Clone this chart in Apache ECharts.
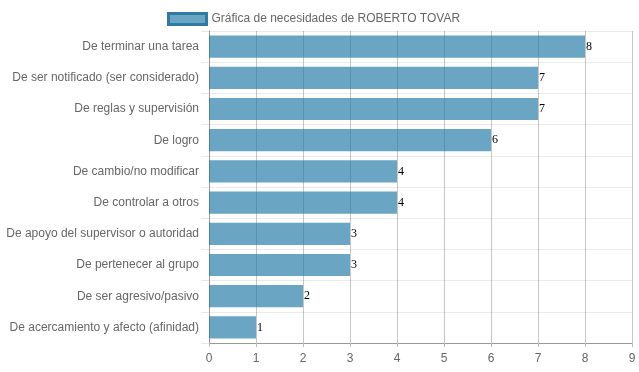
<!DOCTYPE html>
<html><head><meta charset="utf-8">
<script src="https://cdn.jsdelivr.net/npm/echarts@6/dist/echarts.min.js"></script>
<style>html,body{margin:0;padding:0;background:#fff}#c{width:639px;height:372px}</style>
</head><body><div id="c"></div>
<script>
const categories = [
  "De terminar una tarea",
  "De ser notificado (ser considerado)",
  "De reglas y supervisión",
  "De logro",
  "De cambio/no modificar",
  "De controlar a otros",
  "De apoyo del supervisor o autoridad",
  "De pertenecer al grupo",
  "De ser agresivo/pasivo",
  "De acercamiento y afecto (afinidad)"
];
const values = [8, 7, 7, 6, 4, 4, 3, 3, 2, 1];
const seriesName = "Gráfica de necesidades de ROBERTO TOVAR";
const xTicks = [0, 1, 2, 3, 4, 5, 6, 7, 8, 9];

const chart = echarts.init(document.getElementById('c'));
chart.setOption({
  animation: false,
  textStyle: {fontFamily: 'Liberation Sans, Arial, sans-serif'},
  legend: {
    top: 7, left: 162,
    icon: 'rect',
    itemWidth: 38, itemHeight: 11, itemGap: 9,
    textStyle: {color: '#666', fontSize: 12},
    data: [{name: seriesName, itemStyle: {borderColor: '#2e7aa3', borderWidth: 3, color: 'rgba(26,118,165,0.65)'}}]
  },
  grid: {left: 209, right: 7, top: 31, bottom: 29, containLabel: false},
  xAxis: {
    type: 'value', min: xTicks[0], max: xTicks[xTicks.length - 1], interval: 1,
    axisLine: {show: true, lineStyle: {color: '#999'}},
    axisTick: {show: true, length: 4, lineStyle: {color: '#bbb'}},
    axisLabel: {color: '#666', fontSize: 12, margin: 10},
    splitLine: {show: true, lineStyle: {color: 'rgba(0,0,0,0.22)'}}
  },
  yAxis: {
    type: 'category', inverse: true, data: categories,
    axisLine: {show: true, lineStyle: {color: '#999'}},
    axisTick: {show: true, length: 8, lineStyle: {color: '#e8e8e8'}},
    axisLabel: {color: '#666', fontSize: 12, margin: 10},
    splitLine: {show: true, lineStyle: {color: '#ebebeb'}}
  },
  series: [{
    name: seriesName, type: 'bar', data: values,
    barCategoryGap: '29%',
    itemStyle: {color: 'rgba(26,118,165,0.65)'},
    label: {show: true, position: 'right', distance: 1, color: '#000', fontSize: 12, fontFamily: 'Liberation Serif, serif'}
  }]
});
</script></body></html>
